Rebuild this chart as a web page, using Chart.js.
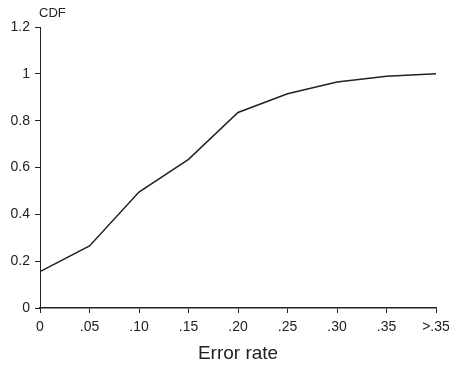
<!DOCTYPE html>
<html>
<head>
<meta charset="utf-8">
<script src="https://cdn.jsdelivr.net/npm/chart.js@4/dist/chart.umd.min.js"></script>
<style>
  html, body { margin: 0; padding: 0; background: #fff; }
  #wrap { width: 449px; height: 365px; }
</style>
</head>
<body>
<div id="wrap"><canvas id="cdfChart" width="449" height="365"></canvas></div>
<script>
const errorRates = ['0', '.05', '.10', '.15', '.20', '.25', '.30', '.35', '>.35'];
const cdfValues = [0.155, 0.265, 0.495, 0.635, 0.835, 0.915, 0.965, 0.99, 1.0];
const yTicks = [0, 0.2, 0.4, 0.6, 0.8, 1, 1.2];
const yTickLabels = ['0', '0.2', '0.4', '0.6', '0.8', '1', '1.2'];

const inkColor = '#222';
const fontFamily = 'Liberation Sans, Arial, sans-serif';

// "CDF" label above the y axis
const cdfTitle = {
  id: 'cdfTitle',
  afterDraw(chart) {
    const ctx = chart.ctx;
    ctx.save();
    ctx.fillStyle = inkColor;
    ctx.font = '13px ' + fontFamily;
    ctx.textBaseline = 'middle';
    ctx.fillText('CDF', chart.chartArea.left - 1, 13);
    ctx.restore();
  }
};

const ctx = document.getElementById('cdfChart').getContext('2d');
new Chart(ctx, {
  type: 'line',
  data: {
    labels: errorRates,
    datasets: [{
      label: 'CDF',
      data: cdfValues,
      borderColor: inkColor,
      borderWidth: 1.5,
      pointRadius: 0,
      fill: false,
      tension: 0
    }]
  },
  options: {
    responsive: false,
    animation: false,
    layout: { padding: { top: 27, right: 13, left: 0, bottom: 0 } },
    plugins: { legend: { display: false }, tooltip: { enabled: false } },
    scales: {
      x: {
        offset: false,
        grid: { drawOnChartArea: false, drawTicks: true, tickLength: 5, color: inkColor },
        border: { display: true, color: inkColor, width: 1.5 },
        ticks: {
          color: inkColor,
          font: { family: fontFamily, size: 14 },
          padding: 6,
          maxRotation: 0,
          autoSkip: false
        },
        title: {
          display: true,
          text: 'Error rate',
          color: inkColor,
          font: { family: fontFamily, size: 19 },
          padding: { top: 2, bottom: 0 }
        },
        afterFit(scale) {
          scale.height = 57;
          scale.paddingLeft = 0;
          scale.paddingRight = 0;
        }
      },
      y: {
        min: 0,
        max: 1.2,
        afterBuildTicks(scale) {
          scale.ticks = yTicks.map(v => ({ value: v }));
        },
        grid: { drawOnChartArea: false, drawTicks: true, tickLength: 5, color: inkColor },
        border: { display: true, color: inkColor, width: 1 },
        ticks: {
          color: inkColor,
          font: { family: fontFamily, size: 14 },
          padding: 5,
          callback(value) {
            const i = yTicks.findIndex(t => Math.abs(t - value) < 1e-9);
            return i >= 0 ? yTickLabels[i] : '';
          }
        },
        afterFit(scale) {
          scale.width = 40;
          scale.paddingTop = 0;
          scale.paddingBottom = 0;
        }
      }
    }
  },
  plugins: [cdfTitle]
});
</script>
</body>
</html>
